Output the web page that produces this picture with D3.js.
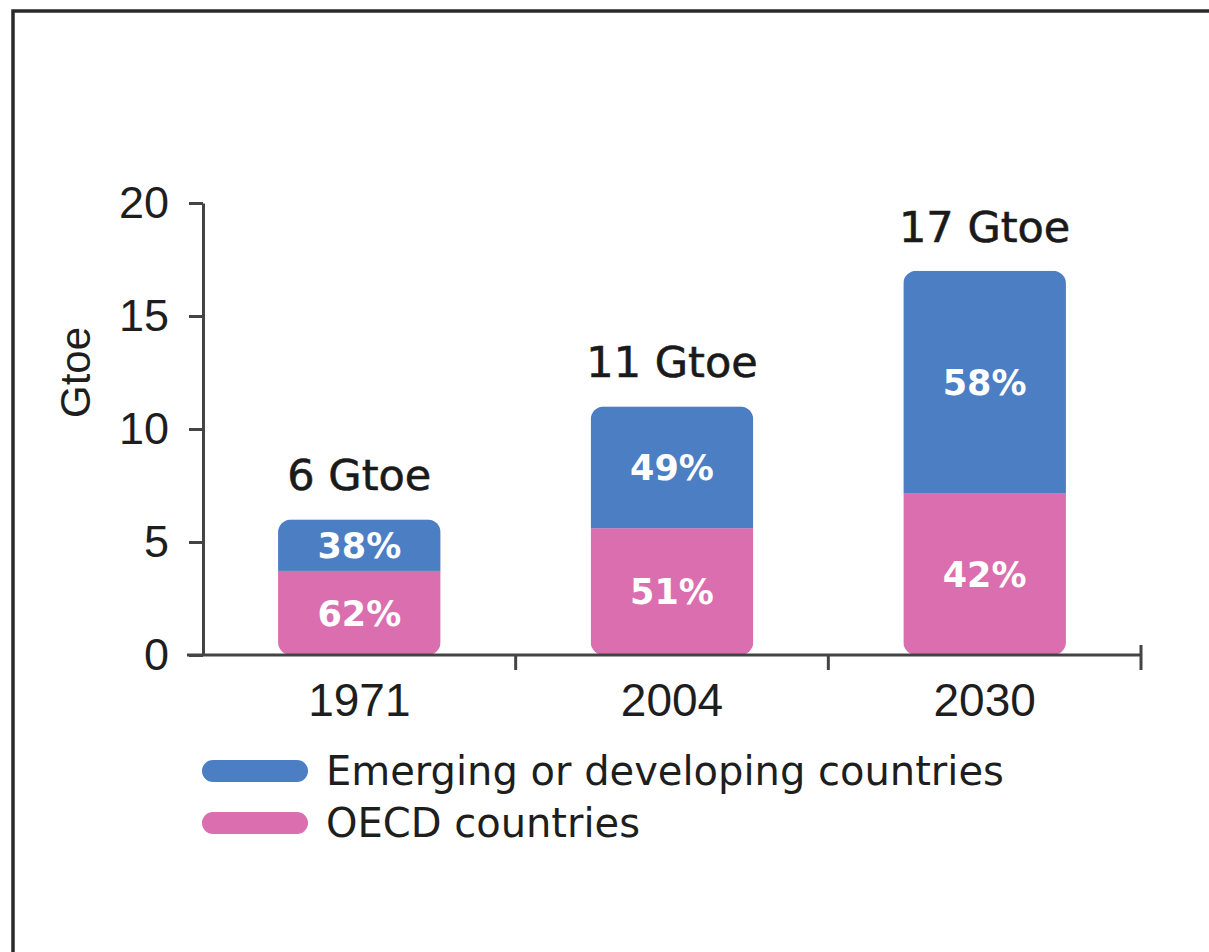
<!DOCTYPE html>
<html>
<head>
<meta charset="utf-8">
<script src="https://cdn.jsdelivr.net/npm/d3@7/dist/d3.min.js"></script>
<style>
  html, body { margin: 0; padding: 0; background: #fff; }
  svg { display: block; }
</style>
</head>
<body>
<svg id="chart" width="1209" height="952"></svg>
<script>
// World primary energy demand, split by group of countries
const categories = ["1971", "2004", "2030"];
const totals = [6, 11, 17];                 // Gtoe
const emergingShare = [38, 49, 58];         // % of total
const oecdShare = [62, 51, 42];             // % of total
const totalLabels = ["6 Gtoe", "11 Gtoe", "17 Gtoe"];
const yTicks = [0, 5, 10, 15, 20];
const seriesNames = ["OECD countries", "Emerging or developing countries"];
const seriesKeys = ["oecd", "emerging"];
const yAxisTitle = "Gtoe";

const colors = { emerging: "#4c7ec4", oecd: "#db6eae" };

const rows = categories.map((c, i) => ({
  year: c,
  total: totals[i],
  oecd: totals[i] * oecdShare[i] / 100,
  emerging: totals[i] * emergingShare[i] / 100,
  oecdPct: oecdShare[i],
  emergingPct: emergingShare[i]
}));

const svg = d3.select("#chart");

// frame (top and left edges)
svg.append("path")
  .attr("d", "M13,952 L13,11 L1209,11")
  .attr("fill", "none")
  .attr("stroke", "#2a2a2a")
  .attr("stroke-width", 3.5);

const y = d3.scaleLinear().domain([0, 20]).range([655, 203]);
const x = d3.scaleBand().domain(categories).range([203, 1141]).paddingInner(0).paddingOuter(0);
const barFrac = 0.52;
const bw = x.bandwidth() * barFrac;
const bx = c => x(c) + (x.bandwidth() - bw) / 2;

const stack = d3.stack().keys(seriesKeys);
const stacked = stack(rows);

// bars: rounded outline per year, stacked segments clipped inside
const defs = svg.append("defs");
rows.forEach((r, i) => {
  defs.append("clipPath").attr("id", "clip" + i)
    .append("rect")
    .attr("x", bx(r.year))
    .attr("y", y(r.total))
    .attr("width", bw)
    .attr("height", y(0) - y(r.total))
    .attr("rx", 13).attr("ry", 13);
});

const barsG = svg.append("g");
stacked.forEach(layer => {
  layer.forEach((d, i) => {
    barsG.append("rect")
      .attr("clip-path", `url(#clip${i})`)
      .attr("x", bx(d.data.year))
      .attr("y", y(d[1]))
      .attr("width", bw)
      .attr("height", y(d[0]) - y(d[1]))
      .attr("fill", colors[layer.key]);
  });
});

// percentage labels centred in each segment
stacked.forEach(layer => {
  layer.forEach(d => {
    const pct = layer.key === "oecd" ? d.data.oecdPct : d.data.emergingPct;
    svg.append("text")
      .attr("x", bx(d.data.year) + bw / 2)
      .attr("y", (y(d[0]) + y(d[1])) / 2)
      .attr("dy", "0.36em")
      .attr("text-anchor", "middle")
      .attr("font-family", "DejaVu Sans")
      .attr("font-weight", "bold")
      .attr("font-size", 35)
      .attr("fill", "#fff")
      .text(pct + "%");
  });
});

// total labels above bars
rows.forEach((r, i) => {
  svg.append("text")
    .attr("x", bx(r.year) + bw / 2)
    .attr("y", y(r.total) - 29)
    .attr("text-anchor", "middle")
    .attr("font-family", "DejaVu Sans")
    .attr("font-size", 43)
    .attr("fill", "#1a1a1a")
    .attr("stroke", "#1a1a1a")
    .attr("stroke-width", 0.6)
    .text(totalLabels[i]);
});

// y axis
const yAxis = d3.axisLeft(y).tickValues(yTicks).tickSize(14).tickSizeOuter(0).tickPadding(20);
const yG = svg.append("g").attr("transform", "translate(203,0)").call(yAxis);
yG.select(".domain").attr("stroke", "#444").attr("stroke-width", 3);
yG.selectAll(".tick line").attr("stroke", "#444").attr("stroke-width", 3);
yG.selectAll(".tick text")
  .attr("font-family", "Liberation Sans, Arial, sans-serif")
  .attr("font-size", 45)
  .attr("fill", "#1e1e1e");

svg.append("text")
  .attr("transform", `translate(90,${(y(10) + y(15)) / 2 + 0}) rotate(-90)`)
  .attr("text-anchor", "middle")
  .attr("font-family", "Liberation Sans, Arial, sans-serif")
  .attr("font-size", 42)
  .attr("fill", "#1e1e1e")
  .text(yAxisTitle);

// x axis: baseline, boundary ticks, category labels
const axisColor = "#444";
svg.append("line")
  .attr("x1", 187).attr("x2", x.range()[1])
  .attr("y1", y(0)).attr("y2", y(0))
  .attr("stroke", axisColor).attr("stroke-width", 3);

categories.forEach((c, i) => {
  const xb = x(c) + x.bandwidth();
  const last = i === categories.length - 1;
  svg.append("line")
    .attr("x1", xb).attr("x2", xb)
    .attr("y1", last ? y(0) - 10 : y(0)).attr("y2", y(0) + 15)
    .attr("stroke", axisColor).attr("stroke-width", 3);
  svg.append("text")
    .attr("x", x(c) + x.bandwidth() / 2)
    .attr("y", 716)
    .attr("text-anchor", "middle")
    .attr("font-family", "Liberation Sans, Arial, sans-serif")
    .attr("font-size", 46)
    .attr("fill", "#1e1e1e")
    .text(c);
});

// legend
const legendItems = [
  { key: "emerging", name: seriesNames[1], cy: 771 },
  { key: "oecd", name: seriesNames[0], cy: 823 }
];
const lg = svg.append("g");
legendItems.forEach(it => {
  lg.append("line")
    .attr("x1", 213).attr("x2", 297)
    .attr("y1", it.cy).attr("y2", it.cy)
    .attr("stroke", colors[it.key])
    .attr("stroke-width", 22)
    .attr("stroke-linecap", "round");
  lg.append("text")
    .attr("x", 326)
    .attr("y", it.cy + 14)
    .attr("font-family", "DejaVu Sans")
    .attr("font-size", 40)
    .attr("fill", "#1e1e1e")
    .text(it.name);
});
</script>
</body>
</html>
